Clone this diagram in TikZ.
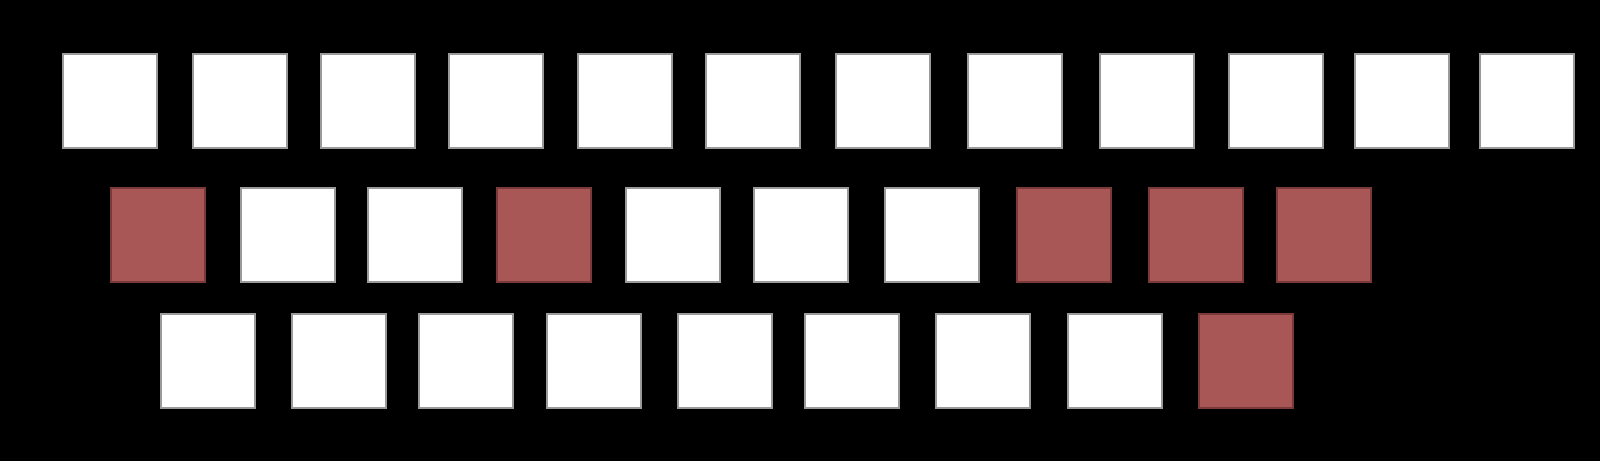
\documentclass[tikz,border=0pt]{standalone}
\usetikzlibrary{positioning}
\definecolor{keyred}{HTML}{A85656}
\definecolor{keyedge}{HTML}{9A9A9A}
\definecolor{rededge}{HTML}{7A3A3A}

\tikzset{
  key/.style={fill=white, draw=keyedge, line width=0.4pt},
  hitkey/.style={fill=keyred, draw=rededge, line width=0.4pt}
}

\begin{document}
\begin{tikzpicture}

% Background (1px = 0.01cm)
\fill[black] (0,0) rectangle (16,4.61);
\useasboundingbox (0,0) rectangle (16,4.61);

% Top row: 12 keys
\foreach \x/\s in {0.63/key, 1.93/key, 3.21/key, 4.49/key, 5.78/key, 7.06/key,
                   8.36/key, 9.68/key, 11.00/key, 12.29/key, 13.55/key, 14.80/key}
  \draw[\s] (\x,3.13) rectangle ++(0.94,0.94);

% Middle row: 10 keys
\foreach \x/\s in {1.11/hitkey, 2.41/key, 3.68/key, 4.97/hitkey, 6.26/key,
                   7.54/key, 8.85/key, 10.17/hitkey, 11.49/hitkey, 12.77/hitkey}
  \draw[\s] (\x,1.79) rectangle ++(0.94,0.94);

% Bottom row: 9 keys
\foreach \x/\s in {1.61/key, 2.92/key, 4.19/key, 5.47/key, 6.78/key,
                   8.05/key, 9.36/key, 10.68/key, 11.99/hitkey}
  \draw[\s] (\x,0.53) rectangle ++(0.94,0.94);

\end{tikzpicture}
\end{document}
